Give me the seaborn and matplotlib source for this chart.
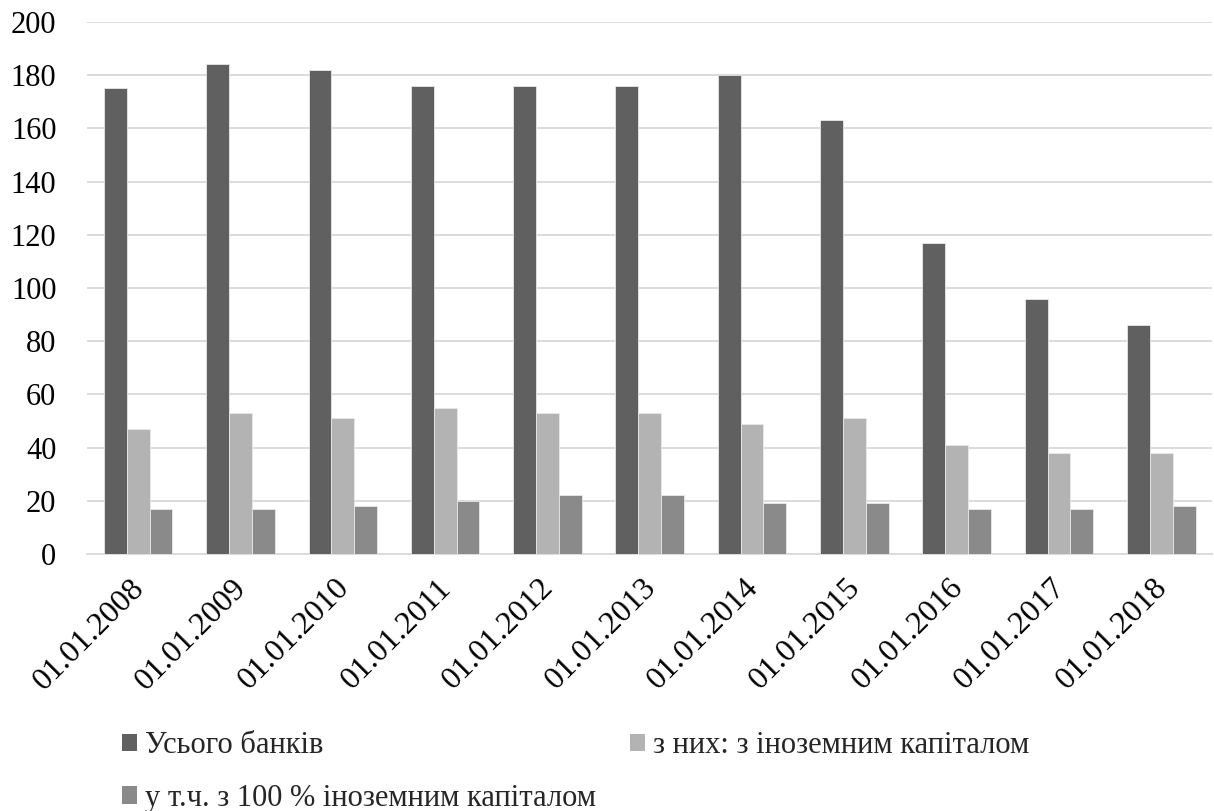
import numpy as np
import pandas as pd
import matplotlib
matplotlib.use("Agg")
import matplotlib.pyplot as plt
import matplotlib.transforms as mtransforms
import seaborn as sns
from matplotlib.patches import Patch
from matplotlib.ticker import FixedLocator

dates = ["01.01.2008", "01.01.2009", "01.01.2010", "01.01.2011", "01.01.2012",
         "01.01.2013", "01.01.2014", "01.01.2015", "01.01.2016", "01.01.2017",
         "01.01.2018"]
total_banks = [175, 184, 182, 176, 176, 176, 180, 163, 117, 96, 86]
foreign_capital = [47, 53, 51, 55, 53, 53, 49, 51, 41, 38, 38]
full_foreign = [17, 17, 18, 20, 22, 22, 19, 19, 17, 17, 18]
series_names = ["Усього банків", "з них: з іноземним капіталом",
                "у т.ч. з 100 % іноземним капіталом"]
colors = ["#606060", "#b3b3b3", "#8a8a8a"]
y_ticks = [0, 20, 40, 60, 80, 100, 120, 140, 160, 180, 200]

df = pd.DataFrame({
    "date": dates * 3,
    "value": total_banks + foreign_capital + full_foreign,
    "series": [series_names[0]] * len(dates) + [series_names[1]] * len(dates)
              + [series_names[2]] * len(dates),
})

sns.set_theme(style="white")
plt.rcParams["font.family"] = ["Liberation Serif", "DejaVu Serif"]

fig = plt.figure(figsize=(12.14, 8.11), dpi=100)
ax = fig.add_axes([0.0717, 0.317, 0.927, 0.656])

sns.barplot(data=df, x="date", y="value", hue="series", order=dates,
            hue_order=series_names, palette=colors, width=0.67,
            edgecolor="#e8e8e8", linewidth=0.6, ax=ax, legend=False, zorder=3)

ax.set_ylim(0, 200)
ax.set_xlim(-0.5, len(dates) - 0.5)
ax.set_yticks(y_ticks)
ax.yaxis.grid(True, color="#d9d9d9", linewidth=1.3, zorder=0)
ax.set_axisbelow(True)
ax.set_xlabel("")
ax.set_ylabel("")

for side in ["left", "right", "top"]:
    ax.spines[side].set_visible(False)
ax.spines["bottom"].set_color("#d9d9d9")
ax.spines["bottom"].set_linewidth(1.3)

ax.tick_params(axis="y", length=0, labelsize=22, pad=22, labelcolor="black")
ax.tick_params(axis="x", which="major", length=0, labelsize=23, pad=14,
               labelcolor="black")
ax.xaxis.set_minor_locator(FixedLocator(np.arange(-0.5, len(dates), 1.0)))
ax.tick_params(axis="x", which="minor", length=8, width=1.3, color="#d9d9d9",
               direction="out")
shift_left = mtransforms.ScaledTranslation(-6 / 72, 0, fig.dpi_scale_trans)
for lbl in ax.get_xticklabels():
    lbl.set_rotation(45)
    lbl.set_ha("right")
    lbl.set_va("top")
    lbl.set_rotation_mode("anchor")
    lbl.set_transform(lbl.get_transform() + shift_left)

# legend filled column by column: first column holds entries 1 and 3
legend_order = [0, 2, 1]
handles = [Patch(facecolor=colors[i], edgecolor="none") for i in legend_order]
labels = [series_names[i] for i in legend_order]
fig.legend(handles, labels, loc="upper left", bbox_to_anchor=(0.1005, 0.0984),
           ncol=2, frameon=False, fontsize=22, handlelength=0.5, handleheight=0.5,
           handletextpad=0.26, columnspacing=1.1, labelspacing=0.77,
           borderaxespad=0, borderpad=0)

fig.savefig("out.png", dpi=100, facecolor="white")
